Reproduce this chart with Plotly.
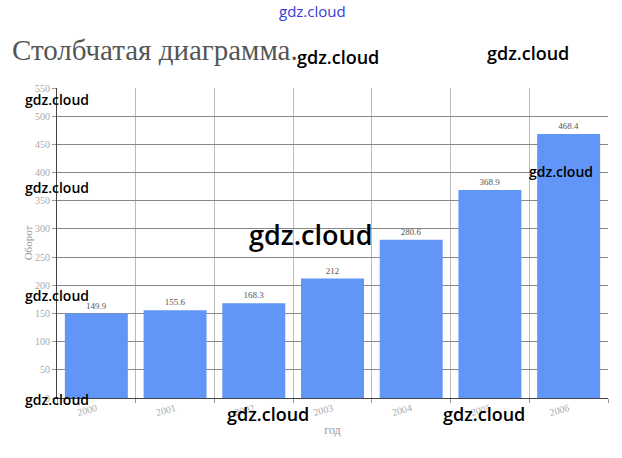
import plotly.graph_objects as go

years = ["2000", "2001", "2002", "2003", "2004", "2005", "2006"]
turnover = [149.9, 155.6, 168.3, 212, 280.6, 368.9, 468.4]
y_ticks = list(range(0, 551, 50))

# plot area in pixels (window 622x458)
L, R, T, B = 57, 608, 88, 398
W, H = 622, 458


def px(x, y):
    # pixel position -> paper coordinates
    return (x - L) / (R - L), (B - y) / (B - T)


fig = go.Figure()
fig.add_trace(
    go.Bar(
        x=years,
        y=turnover,
        marker=dict(color="#6196f8", line=dict(width=0)),
        width=0.8,
        text=[f"{v:g}" for v in turnover],
        textposition="outside",
        textfont=dict(family="Liberation Serif", size=9, color="#555"),
        cliponaxis=False,
        hoverinfo="skip",
    )
)

# watermark labels
marks = [
    (338, 57, 18), (528, 53, 18), (57, 99, 14), (57, 187, 14),
    (310, 234, 27), (57, 295, 14), (561, 171, 14), (57, 399, 14),
    (268, 414, 18), (484, 414, 18),
]
annotations = []
for mx, my, size in marks:
    ax, ay = px(mx, my)
    annotations.append(dict(
        x=ax, y=ay, xref="paper", yref="paper", text="gdz.cloud",
        showarrow=False, xanchor="center", yanchor="middle",
        font=dict(family="Open Sans", size=size, color="black", weight=600),
    ))
ax, ay = px(312, 11)
annotations.append(dict(
    x=ax, y=ay, xref="paper", yref="paper", text="gdz.cloud",
    showarrow=False, xanchor="center", yanchor="middle",
    font=dict(family="Open Sans", size=15, color="#3a3ad6"),
))

fig.update_layout(
    width=W,
    height=H,
    margin=dict(l=L, r=W - R, t=T, b=H - B, pad=0, autoexpand=False),
    paper_bgcolor="white",
    plot_bgcolor="white",
    showlegend=False,
    bargap=0.2,
    title=dict(
        text="Столбчатая диаграмма.",
        x=12 / W, xanchor="left", y=1 - 50 / H, yanchor="middle",
        font=dict(family="Liberation Serif", size=29, color="#555"),
    ),
    xaxis=dict(
        type="category",
        automargin=False,
        tickson="boundaries",
        showgrid=True,
        gridcolor="#bbb",
        gridwidth=1,
        showline=True,
        linecolor="#444",
        ticks="outside",
        ticklen=4,
        tickcolor="#999",
        tickangle=-15,
        tickfont=dict(family="Liberation Serif", size=10, color="#aaa"),
        title=dict(text="год", font=dict(family="Liberation Serif", size=12, color="#999"), standoff=8),
    ),
    yaxis=dict(
        range=[0, 550],
        automargin=False,
        tickvals=y_ticks,
        showgrid=True,
        gridcolor="#888",
        gridwidth=1,
        showline=True,
        linecolor="#444",
        ticks="outside",
        ticklen=4,
        tickcolor="#999",
        zeroline=False,
        tickfont=dict(family="Liberation Serif", size=10, color="#aaa"),
        title=dict(text="Оборот", font=dict(family="Liberation Serif", size=11, color="#999"), standoff=0),
    ),
    annotations=annotations,
)

fig.write_html(
    "out.html",
    config={"displayModeBar": False},
    post_script="document.body.style.margin='0px';",
)
